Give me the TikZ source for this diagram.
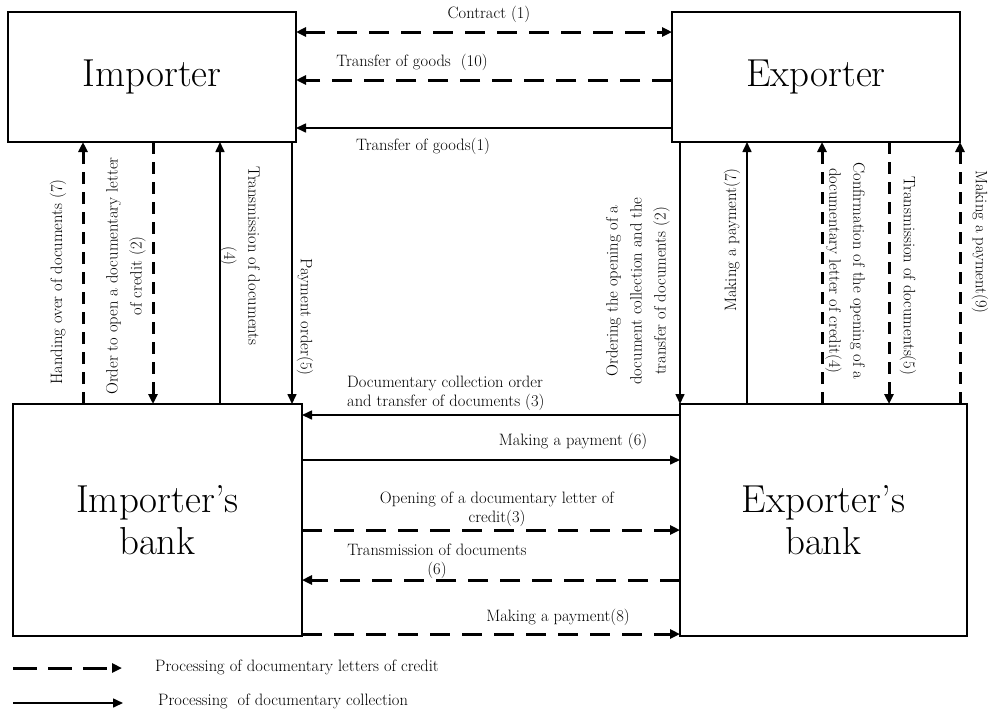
\documentclass[tikz,border=0pt]{standalone}
\usetikzlibrary{arrows.meta}
\begin{document}
\begin{tikzpicture}[x=1pt,y=-1pt,
  >={Triangle[length=10pt,width=9pt]},
  box/.style={draw, line width=1.8pt, inner sep=0pt, outer sep=0pt, align=center,
    font=\fontsize{39}{42}\selectfont},
  solidarrow/.style={line width=1.6pt, ->},
  hdash/.style={line width=3pt, dash pattern=on 20pt off 12pt, ->},
  vdash/.style={line width=3pt, dash pattern=on 12pt off 8pt, ->},
  legdash/.style={line width=3pt, dash pattern=on 24pt off 11pt, ->},
  lbl/.style={font=\fontsize{16.5}{19}\selectfont, inner sep=0pt, align=center},
  vlbl/.style={font=\fontsize{16.5}{24}\selectfont, inner sep=0pt, align=center}]
\useasboundingbox (0,0) rectangle (997,710);
\fill[white] (0,0) rectangle (997,710);

% boxes
\node[box, minimum width=288pt, minimum height=130pt] (imp) at (152,77) {Importer};
\node[box, minimum width=288pt, minimum height=130pt] (exp) at (816,77) {Exporter};
\node[box, minimum width=289pt, minimum height=232pt] (ib) at (157.5,520) {Importer's\\bank};
\node[box, minimum width=287pt, minimum height=232pt] (eb) at (823.5,520) {Exporter's\\bank};

% rails
\coordinate (r1) at (0,32);
\coordinate (r2) at (0,80);
\coordinate (r3) at (0,128);
\coordinate (r4) at (0,415);
\coordinate (r5) at (0,460);
\coordinate (r6) at (0,530);
\coordinate (r7) at (0,580);
\coordinate (r8) at (0,634);
\coordinate (c1) at (83,0);
\coordinate (c2) at (153,0);
\coordinate (c3) at (220,0);
\coordinate (c4) at (292,0);
\coordinate (c5) at (680,0);
\coordinate (c6) at (747,0);
\coordinate (c7) at (822,0);
\coordinate (c8) at (889,0);
\coordinate (c9) at (960,0);

% horizontal connectors
\draw[hdash, <->] (imp.east |- r1) -- (exp.west |- r1);
\draw[hdash] (exp.west |- r2) -- (imp.east |- r2);
\draw[solidarrow] (exp.west |- r3) -- (imp.east |- r3);
\draw[solidarrow] (eb.west |- r4) -- (ib.east |- r4);
\draw[solidarrow] (ib.east |- r5) -- (eb.west |- r5);
\draw[hdash] (ib.east |- r6) -- (eb.west |- r6);
\draw[hdash] (eb.west |- r7) -- (ib.east |- r7);
\draw[hdash] (ib.east |- r8) -- (eb.west |- r8);

% vertical connectors
\draw[vdash] (ib.north -| c1) -- (imp.south -| c1);
\draw[vdash] (imp.south -| c2) -- (ib.north -| c2);
\draw[solidarrow] (ib.north -| c3) -- (imp.south -| c3);
\draw[solidarrow] (imp.south -| c4) -- (ib.north -| c4);
\draw[solidarrow] (exp.south -| c5) -- (eb.north -| c5);
\draw[solidarrow] (eb.north -| c6) -- (exp.south -| c6);
\draw[vdash] (eb.north -| c7) -- (exp.south -| c7);
\draw[vdash] (exp.south -| c8) -- (eb.north -| c8);
\draw[vdash] (eb.north -| c9) -- (exp.south -| c9);

% horizontal labels
\node[lbl] (L1) at (489,14) {Contract (1)};
\node[lbl] (L2) at (412,62) {Transfer of goods\ \ (10)};
\node[lbl] (L3) at (423,146) {Transfer of goods(1)};
\node[lbl, align=left, anchor=west] (L4) at (347,393) {Documentary collection order\\and transfer of documents (3)};
\node[lbl] (L5) at (573,441) {Making a payment (6)};
\node[lbl] (L6) at (497,509) {Opening of a documentary letter of\\credit(3)};
\node[lbl] (L7) at (437,561) {Transmission of documents\\(6)};
\node[lbl] (L8) at (558,617) {Making a payment(8)};

% vertical labels
\node[lbl, rotate=90] (V1) at (58,282) {Handing over of documents (7)};
\node[vlbl, rotate=90] (V2) at (126,276) {Order to open a documentary letter\\of credit (2)};
\node[vlbl, rotate=-90] (V3) at (240,256) {Transmission of documents\\(4)};
\node[lbl, rotate=-90] (V4) at (305,317) {Payment order(5)};
\node[vlbl, rotate=90] (V5) at (638,291) {Ordering the opening of a\\document collection and the\\transfer of documents (2)};
\node[lbl, rotate=90] (V6) at (732,240) {Making a payment(7)};
\node[vlbl, rotate=-90] (V7) at (845,271) {Confirmation of the opening of a\\documentary letter of credit(4)};
\node[lbl, rotate=-90] (V8) at (908,276) {Transmission of documents(5)};
\node[lbl, rotate=-90] (V9) at (980,242) {Making a payment(9)};

% legend
\coordinate (l1s) at (13,668);
\coordinate (l1e) at (122,668);
\coordinate (l2s) at (13,703);
\coordinate (l2e) at (123,703);
\draw[legdash] (l1s) -- (l1e);
\draw[solidarrow] (l2s) -- (l2e);
\node[lbl, anchor=west] (T1) at (155,667) {Processing of documentary letters of credit};
\node[lbl, anchor=west] (T2) at (158,701) {Processing\ \ of documentary collection};
\end{tikzpicture}
\end{document}
